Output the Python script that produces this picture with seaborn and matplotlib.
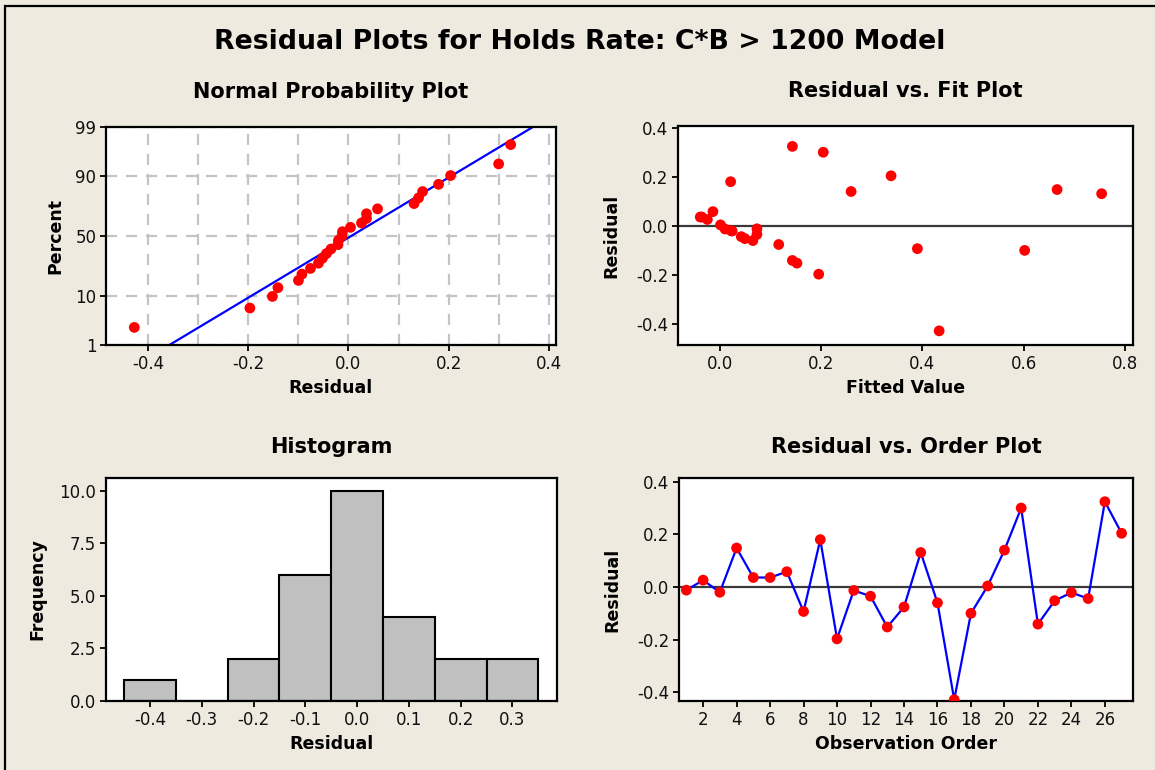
import numpy as np
import pandas as pd
import matplotlib
matplotlib.use("Agg")
import matplotlib.pyplot as plt
import seaborn as sns
from statistics import NormalDist, mean, stdev
from matplotlib.patches import Rectangle
from matplotlib.ticker import FixedLocator, MultipleLocator, FormatStrFormatter

# ---------------- data ----------------
observation = list(range(1, 28))
residuals = [-0.012, 0.026, -0.020, 0.148, 0.036, 0.036, 0.058, -0.093, 0.180,
             -0.197, -0.013, -0.035, -0.152, -0.076, 0.131, -0.060, -0.428,
             -0.100, 0.004, 0.140, 0.300, -0.141, -0.052, -0.021, -0.044,
             0.324, 0.204]
fitted = [0.073, -0.025, 0.022, 0.666, -0.039, -0.036, -0.014, 0.390, 0.021,
          0.195, 0.010, 0.073, 0.152, 0.116, 0.754, 0.065, 0.433, 0.602,
          0.001, 0.259, 0.204, 0.143, 0.049, 0.024, 0.042, 0.143, 0.338]
percent_ticks = [1, 10, 50, 90, 99]
hist_edges = [-0.45, -0.35, -0.25, -0.15, -0.05, 0.05, 0.15, 0.25, 0.35]
hist_ticks = [-0.4, -0.3, -0.2, -0.1, 0.0, 0.1, 0.2, 0.3]
order_ticks = list(range(2, 27, 2))

main_title = "Residual Plots for Holds Rate: C*B > 1200 Model"

# ---------------- style ----------------
BG = "#EEEAE0"
RED = "#FF0000"
BLUE = "#0000FF"
sns.set_theme(style="white")
plt.rcParams['font.family'] = ['DejaVu Sans']
plt.rcParams['axes.unicode_minus'] = False
plt.rcParams['text.color'] = 'black'
plt.rcParams['axes.labelcolor'] = 'black'
plt.rcParams['axes.titlecolor'] = 'black'

W, H = 1155, 770
fig = plt.figure(figsize=(W / 100, H / 100), dpi=100, facecolor=BG)


def px_axes(left, top, right, bottom):
    return fig.add_axes([left / W, 1 - bottom / H, (right - left) / W, (bottom - top) / H])


TICK_FS = 12
LABEL_FS = 12.5
TITLE_FS = 15


def style_axes(ax, title, xlabel, ylabel, ylab_dx, title_pad=16):
    ax.set_facecolor("white")
    for s in ax.spines.values():
        s.set_visible(True)
        s.set_color("black")
        s.set_linewidth(1.6)
    ax.tick_params(axis="both", which="major", direction="out", length=4, width=1.3,
                   color="black", labelsize=TICK_FS, labelcolor="#111111", pad=3,
                   bottom=True, left=True, top=False, right=False)
    ax.tick_params(axis="both", which="minor", length=0)
    ax.set_title(title, fontsize=TITLE_FS, fontweight="bold", pad=title_pad, color="black")
    ax.set_xlabel(xlabel, fontsize=LABEL_FS, fontweight="bold", color="black")
    ax.set_ylabel(ylabel, fontsize=LABEL_FS, fontweight="bold", color="black")
    bb = ax.get_position()
    ax_h_px = bb.height * H
    ax_w_px = bb.width * W
    ax.xaxis.set_label_coords(0.5, -34 / ax_h_px)
    ax.yaxis.set_label_coords(-ylab_dx / ax_w_px, 0.5)


# ---------------- Normal probability plot ----------------
nd = NormalDist()
n = len(residuals)
sorted_res = sorted(residuals)
probs = [(i + 1 - 0.3) / (n + 0.4) for i in range(n)]
zvals = [nd.inv_cdf(p) for p in probs]
mu, sd = mean(residuals), stdev(residuals)
z_lo, z_hi = nd.inv_cdf(0.01), nd.inv_cdf(0.99)
line_z = [z_lo, z_hi]
line_x = [mu + sd * z for z in line_z]
df_np = pd.DataFrame({"res": sorted_res, "z": zvals})
df_line = pd.DataFrame({"x": line_x, "z": line_z})

ax1 = px_axes(106, 127, 556, 345)
ax1.set_xlim(-0.4845, 0.4146)
ax1.set_ylim(z_lo, z_hi)
ax1.xaxis.set_major_locator(FixedLocator([-0.4, -0.2, 0.0, 0.2, 0.4]))
ax1.xaxis.set_minor_locator(MultipleLocator(0.1))
ax1.set_yticks([nd.inv_cdf(p / 100) for p in percent_ticks])
ax1.set_yticklabels([str(p) for p in percent_ticks])
ax1.grid(True, which="both", axis="x", color="#C4C4C4", linestyle=(0, (5, 4)), linewidth=1.6)
ax1.grid(True, which="major", axis="y", color="#C4C4C4", linestyle=(0, (5, 4)), linewidth=1.6)
ax1.set_axisbelow(True)
sns.lineplot(data=df_line, x="x", y="z", ax=ax1, color=BLUE, linewidth=1.6, sort=False)
sns.scatterplot(data=df_np, x="res", y="z", ax=ax1, color=RED, s=60, edgecolor="none", zorder=3)
style_axes(ax1, "Normal Probability Plot", "Residual", "Percent", 42, title_pad=21)

# ---------------- Residual vs Fit ----------------
df = pd.DataFrame({"obs": observation, "res": residuals, "fit": fitted})
ax2 = px_axes(678, 126, 1133, 345)
ax2.set_xlim(-0.083, 0.816)
ax2.set_ylim(-0.4856, 0.407)
ax2.set_xticks([0.0, 0.2, 0.4, 0.6, 0.8])
ax2.set_yticks([0.4, 0.2, 0.0, -0.2, -0.4])
ax2.xaxis.set_major_formatter(FormatStrFormatter("%.1f"))
ax2.yaxis.set_major_formatter(FormatStrFormatter("%.1f"))
ax2.axhline(0, color="#3A3A3A", linewidth=1.6, zorder=1)
sns.scatterplot(data=df, x="fit", y="res", ax=ax2, color=RED, s=60, edgecolor="none", zorder=3)
style_axes(ax2, "Residual vs. Fit Plot", "Fitted Value", "Residual", 58, title_pad=21)

# ---------------- Histogram ----------------
ax3 = px_axes(106, 478, 557, 701)
sns.histplot(data=df, x="res", bins=hist_edges, ax=ax3, color="#C0C0C0", alpha=1.0,
             edgecolor="black", linewidth=1.5, zorder=2)
ax3.set_xlim(-0.485, 0.386)
ax3.set_ylim(0, 10.6)
ax3.set_xticks(hist_ticks)
ax3.set_yticks([0.0, 2.5, 5.0, 7.5, 10.0])
ax3.xaxis.set_major_formatter(FormatStrFormatter("%.1f"))
ax3.yaxis.set_major_formatter(FormatStrFormatter("%.1f"))
style_axes(ax3, "Histogram", "Residual", "Frequency", 60, title_pad=18)

# ---------------- Residual vs Order ----------------
ax4 = px_axes(679, 478, 1133, 701)
ax4.set_xlim(0.56, 27.68)
ax4.set_ylim(-0.433, 0.414)
ax4.set_xticks(order_ticks)
ax4.set_yticks([0.4, 0.2, 0.0, -0.2, -0.4])
ax4.yaxis.set_major_formatter(FormatStrFormatter("%.1f"))
ax4.axhline(0, color="#3A3A3A", linewidth=1.6, zorder=1)
sns.lineplot(data=df, x="obs", y="res", ax=ax4, color=BLUE, linewidth=1.6, zorder=2)
sns.scatterplot(data=df, x="obs", y="res", ax=ax4, color=RED, s=60, edgecolor="none", zorder=3)
style_axes(ax4, "Residual vs. Order Plot", "Observation Order", "Residual", 58, title_pad=18)

# ---------------- main title & frame ----------------
fig.text(580 / W, 1 - 42 / H, main_title, ha="center", va="center",
         fontsize=19.3, fontweight="bold", color="black")
fig.add_artist(Rectangle((5 / W, -0.1), 1.2, 1.1 - 6 / H, transform=fig.transFigure,
                         fill=False, edgecolor="black", linewidth=1.6))

fig.savefig("out.png", dpi=100, facecolor=BG)
